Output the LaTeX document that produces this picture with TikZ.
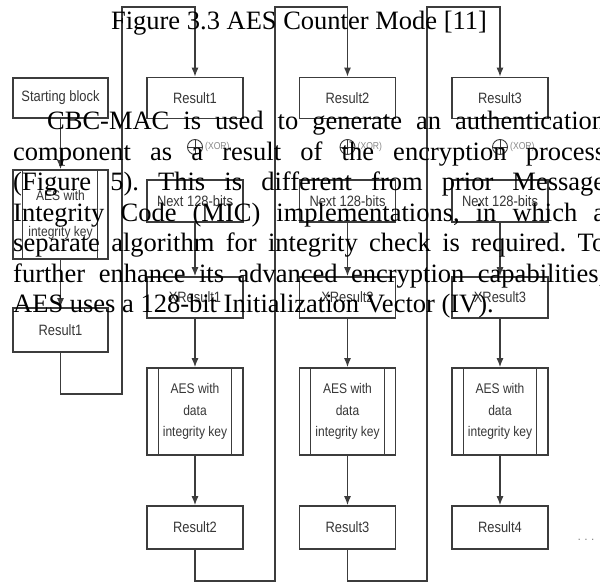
\documentclass[tikz,border=0pt]{standalone}
\usepackage{fontspec}
\setmainfont{Liberation Serif}
\newfontfamily\boxfont[FakeStretch=0.86]{Liberation Sans}
\usetikzlibrary{arrows.meta}
\definecolor{scangray}{RGB}{60, 60, 60}
\definecolor{labelgray}{RGB}{55, 55, 55}

\begin{document}
\begin{tikzpicture}[x=1pt, y=-1pt,
    blk/.style={draw=scangray, line width=1.6pt, minimum width=96pt, minimum height=41pt,
      inner sep=0pt, text=labelgray, font=\boxfont\fontsize{15}{18}\selectfont},
    aesblk/.style={blk, minimum height=87pt, align=center,
      font=\boxfont\fontsize{14}{21.5}\selectfont},
    flow/.style={draw=scangray, line width=1.3pt, -{Latex[length=9pt,width=7pt]}},
    xorsym/.style={draw=labelgray, circle, line width=0.9pt, minimum size=15pt, inner sep=0pt},
  ]
  \clip (0,0) rectangle (600,583);
  \fill[white] (0,0) rectangle (600,583);

  % first block
  \node[blk, minimum width=95pt, minimum height=40pt] (S) at (60.5,98) {Starting block};
  \node[aesblk, minimum width=95pt, minimum height=89pt,
    font=\boxfont\fontsize{14}{36}\selectfont] (K0) at (60.5,214.5) {AES with\\integrity key};
  \node[blk, minimum width=95pt, minimum height=44pt] (R0) at (60.5,330) {Result1};
  \draw[scangray, line width=1.2pt] ([xshift=10pt]K0.north west) -- ([xshift=10pt]K0.south west)
    ([xshift=-11pt]K0.north east) -- ([xshift=-11pt]K0.south east);
  \draw[flow] (S) -- (K0);
  \draw[flow] (K0) -- (R0);

  % chained blocks
  \foreach \i/\x in {1/195, 2/347.5, 3/500} {
    \pgfmathtruncatemacro\nxt{\i+1}
    \node[blk] (T\i) at (\x,98) {Result\i};
    \node[xorsym] (X\i) at (\x,147) {};
    \draw[labelgray, line width=0.9pt] (X\i.north) -- (X\i.south) (X\i.west) -- (X\i.east);
    \node[anchor=west, inner sep=0pt, text=labelgray!60, font=\boxfont\fontsize{10}{12}\selectfont]
      (XL\i) at ([xshift=2pt]X\i.east) {(XOR)};
    \node[blk, minimum height=42pt] (N\i) at (\x,201) {Next 128-bits};
    \node[blk] (XR\i) at (\x,297.5) {XResult\i};
    \node[aesblk] (K\i) at (\x,411.5) {AES with\\data\\integrity key};
    \node[blk, minimum height=43pt] (B\i) at (\x,527.5) {Result\nxt};
    \draw[scangray, line width=1.2pt] ([xshift=12pt]K\i.north west) -- ([xshift=12pt]K\i.south west)
      ([xshift=-12pt]K\i.north east) -- ([xshift=-12pt]K\i.south east);
    \draw[flow] (N\i) -- (XR\i);
    \draw[flow] (XR\i) -- (K\i);
    \draw[flow] (K\i) -- (B\i);
  }

  % feedback loops
  \draw[flow] (R0.south) |- (122,394) -- (122,7) -| (T1.north);
  \draw[flow] (B1.south) |- (275,581) -- (275,7) -| (T2.north);
  \draw[flow] (B2.south) |- (427,581) -- (427,7) -| (T3.north);

  \node[text=labelgray!70, font=\boxfont\fontsize{12}{12}\selectfont] (D) at (586,540) {. . .};

  % page text
  \node[anchor=base, inner sep=0pt, font=\fontsize{26.5}{30.5}\selectfont] (title) at (299,30)
    {Figure 3.3 AES Counter Mode [11]};
  \node[anchor=base west, text width=592pt, align=justify, inner sep=0pt,
    font=\fontsize{26.5}{30.5}\selectfont\frenchspacing] (para) at (13,130)
    {\hspace*{34pt}CBC-MAC is used to generate an authentication\linebreak
     component as a result of the encryption process\linebreak
     (Figure 5). This is different from prior Message\linebreak
     Integrity Code (MIC) implementations, in which a\linebreak
     separate algorithm for integrity check is required. To\linebreak
     further enhance its advanced encryption capabilities,\linebreak
     AES uses a 128-bit Initialization Vector (IV).};
\end{tikzpicture}
\end{document}
